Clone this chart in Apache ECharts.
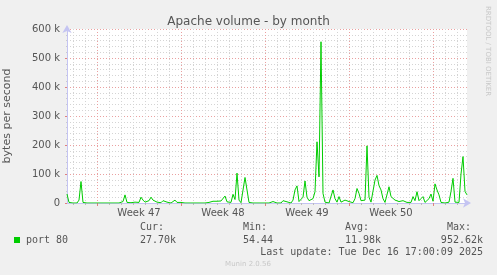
<!DOCTYPE html>
<html>
<head>
<meta charset="utf-8">
<script src="https://cdn.jsdelivr.net/npm/echarts@6/dist/echarts.min.js"></script>
<style>
html,body{margin:0;padding:0;background:#f0f0f0;}
#chart{width:497px;height:275px;}
</style>
</head>
<body>
<div id="chart"></div>
<script>
// Data (bytes per second, in thousands), one sample every 4 hours
const portValues = [
 31,2,0,0,0,0,10,74,2,0, 0,0,0,0,0,2,0,0,0,0,
 0,0,0,0,0,0,0,0,5,28, 2,7,1,0,3,0,2,20,10,3,
 1,8,20,10,7,3,0,1,8,13, 3,0,0,1,10,2,0,2,0,0,
 0,0,0,0,0,0,3,0,0,0, 0,2,5,6,6,6,6,7,10,24,
 4,2,2,30,12,103,10,1,3,88, 85,2,0,0,0,0,0,0,0,0,
 0,0,0,5,0,0,0,0,8,13, 4,1,0,10,45,59,5,1,20,76,
 20,8,8,15,39,211,90,556,33,3, 1,0,5,45,15,3,22,3,1,10,
 6,5,2,1,15,50,33,8,6,10, 197,20,3,8,79,95,60,45,15,2,
 5,56,22,28,10,12,5,10,8,10, 2,1,2,22,8,39,8,15,22,2,
 1,15,31,6,66,45,28,2,0,0, 0,3,40,85,3,0,2,100,160,40,
 28
];
const weekLabels = ['Week 47','Week 48','Week 49','Week 50'];
const weekLabelIndex = [36, 78, 120, 162];
const weekLineIndex = [15, 57, 99, 141, 183];
const yTicks = [0, 100, 200, 300, 400, 500, 600];
const legendStats = {cur:'27.70k', min:'54.44', avg:'11.98k', max:'952.62k'};

const categories = portValues.map((v, i) => String(i));

const chart = echarts.init(document.getElementById('chart'), null, {renderer:'canvas'});
const axisCol = '#c4c4f2';
const mono = '"DejaVu Sans Mono", monospace';
const sans = '"DejaVu Sans", sans-serif';

chart.setOption({
  animation: false,
  backgroundColor: '#f0f0f0',
  title: {
    text: 'Apache volume - by month',
    left: 'center', top: 11,
    textStyle: {fontFamily: sans, fontSize: 12, fontWeight: 'normal', color: '#555'}
  },
  grid: {left: 67, right: 30, top: 29, bottom: 72, show: true, backgroundColor: '#ffffff', borderWidth: 0,
         containLabel: false, outerBoundsMode: 'none'},
  xAxis: [
    {
      type: 'category', data: categories, boundaryGap: false, position: 'bottom',
      axisLine: {show: false},
      axisTick: {show: true, interval: (i) => (i % 6) === 3, length: 2, lineStyle: {color: '#bbb'}},
      axisLabel: {show: false},
      splitLine: {show: true, interval: (i) => (i % 6) === 3, lineStyle: {color: '#d4d4d4', type: [1, 2], width: 1}}
    },
    {
      type: 'category', data: categories, boundaryGap: false, position: 'bottom',
      axisLine: {show: true, lineStyle: {color: axisCol, width: 1}, symbol: ['none', 'arrow'], symbolSize: [7, 8], symbolOffset: [0, 4]},
      axisTick: {show: true, interval: (i) => weekLineIndex.includes(i), length: 3, lineStyle: {color: '#e08080'}},
      axisLabel: {
        show: true, interval: (i) => weekLabelIndex.includes(i),
        formatter: (v, i) => { const k = weekLabelIndex.indexOf(Number(v)); return k >= 0 ? weekLabels[k] : ''; },
        fontFamily: sans, fontSize: 10, color: '#555', margin: 5
      },
      splitLine: {show: true, interval: (i) => weekLineIndex.includes(i), lineStyle: {color: '#eaa0a0', type: [1, 2], width: 1}}
    }
  ],
  yAxis: {
    type: 'value', min: yTicks[0], max: yTicks[yTicks.length - 1], interval: 100,
    name: 'bytes per second', nameLocation: 'middle', nameGap: 54,
    nameTextStyle: {fontFamily: sans, fontSize: 11, color: '#555'},
    axisLine: {show: true, lineStyle: {color: axisCol, width: 1}, symbol: ['none', 'arrow'], symbolSize: [7, 8], symbolOffset: [0, 4]},
    axisTick: {show: true, length: 2, lineStyle: {color: '#e08080'}},
    minorTick: {show: true, splitNumber: 5, length: 1, lineStyle: {color: '#ccc'}},
    minorSplitLine: {show: true, lineStyle: {color: '#d4d4d4', type: [1, 2], width: 1}},
    splitLine: {show: true, lineStyle: {color: '#eaa0a0', type: [1, 2], width: 1}},
    axisLabel: {formatter: (v) => v === 0 ? '0' : v + ' k', fontFamily: sans, fontSize: 10, color: '#555', margin: 7}
  },
  series: [{
    type: 'line', name: 'port 80', xAxisIndex: 1, data: portValues,
    showSymbol: false, symbol: 'none',
    lineStyle: {color: '#00cc00', width: 1},
    itemStyle: {color: '#00cc00'}, z: 5
  }],
  graphic: [
    {type: 'text', x: 488, y: 6, rotation: -Math.PI / 2,
     style: {text: 'RRDTOOL / TOBI OETIKER', font: '7px ' + sans, fill: '#c8c8c8', textAlign: 'left', textVerticalAlign: 'middle'}},
    {type: 'rect', shape: {x: 14, y: 237, width: 6, height: 6}, style: {fill: '#00cc00'}},
    {type: 'text', x: 26, y: 240, style: {text: 'port 80', font: '10px ' + mono, fill: '#555', textVerticalAlign: 'middle'}},
    {type: 'text', x: 140, y: 227, style: {text: 'Cur:', font: '10px ' + mono, fill: '#555', textVerticalAlign: 'middle'}},
    {type: 'text', x: 140, y: 240, style: {text: legendStats.cur, font: '10px ' + mono, fill: '#555', textVerticalAlign: 'middle'}},
    {type: 'text', x: 243, y: 227, style: {text: 'Min:', font: '10px ' + mono, fill: '#555', textVerticalAlign: 'middle'}},
    {type: 'text', x: 243, y: 240, style: {text: legendStats.min, font: '10px ' + mono, fill: '#555', textVerticalAlign: 'middle'}},
    {type: 'text', x: 345, y: 227, style: {text: 'Avg:', font: '10px ' + mono, fill: '#555', textVerticalAlign: 'middle'}},
    {type: 'text', x: 345, y: 240, style: {text: legendStats.avg, font: '10px ' + mono, fill: '#555', textVerticalAlign: 'middle'}},
    {type: 'text', x: 447, y: 227, style: {text: 'Max:', font: '10px ' + mono, fill: '#555', textVerticalAlign: 'middle'}},
    {type: 'text', x: 483, y: 240, style: {text: legendStats.max, font: '10px ' + mono, fill: '#555', textAlign: 'right', textVerticalAlign: 'middle'}},
    {type: 'text', x: 483, y: 252, style: {text: 'Last update: Tue Dec 16 17:00:09 2025', font: '10px ' + mono, fill: '#555', textAlign: 'right', textVerticalAlign: 'middle'}},
    {type: 'text', x: 248, y: 264, style: {text: 'Munin 2.0.56', font: '7px ' + sans, fill: '#c8c8c8', textAlign: 'center', textVerticalAlign: 'middle'}}
  ]
});
</script>
</body>
</html>
